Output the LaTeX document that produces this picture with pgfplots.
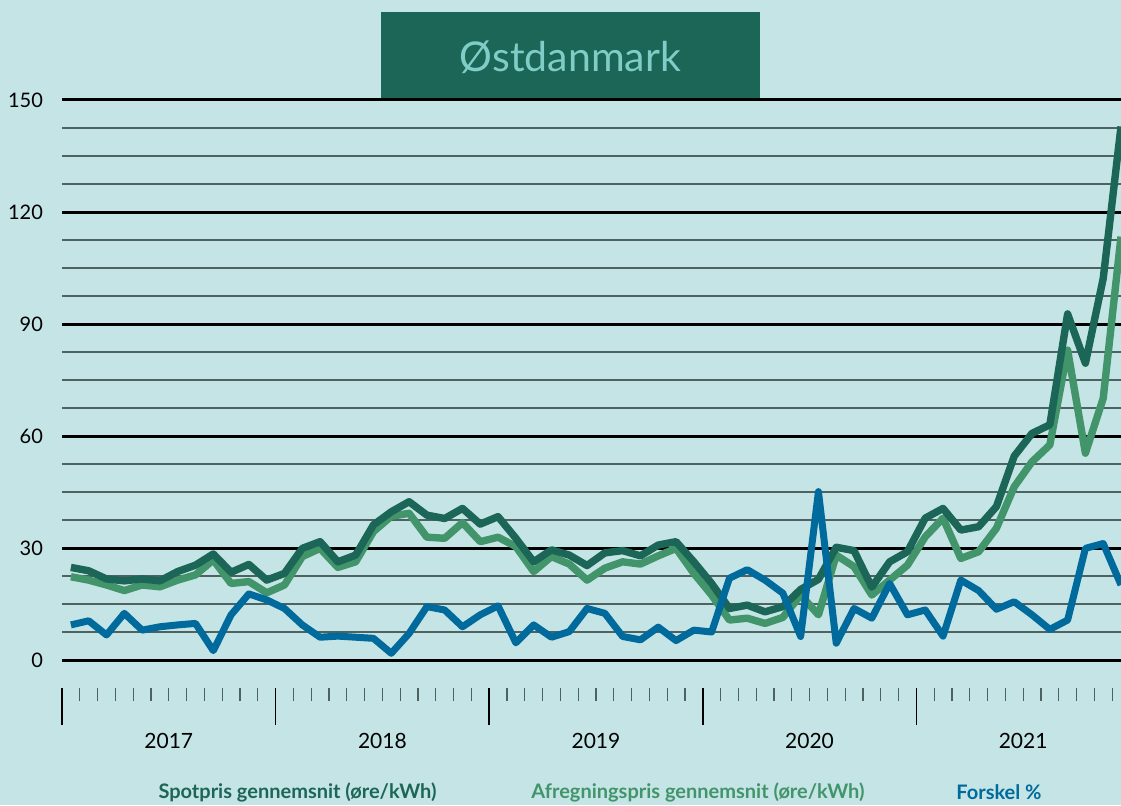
\documentclass[border=0pt]{standalone}
\usepackage{pgfplots}
\usepackage{pgfplotstable}
\pgfplotsset{compat=1.18}
\usepackage{fontspec}
\setmainfont{Lato}
\definecolor{bg}{HTML}{C5E4E5}
\definecolor{darkg}{HTML}{1C6657}
\definecolor{lightg}{HTML}{42946A}
\definecolor{blueL}{HTML}{006A9C}
\definecolor{titletxt}{HTML}{7FCDC6}
\definecolor{minorgrid}{HTML}{4E6262}
\pgfplotstableread{
x spot afr forskel
0.5 24.8 22.3 9.4
1.5 23.9 21.4 10.5
2.5 21.7 20.1 6.7
3.5 21.2 18.6 12.5
4.5 21.7 20.1 8.0
5.5 21.2 19.6 8.9
6.5 23.7 21.4 9.4
7.5 25.4 22.8 9.8
8.5 28.4 26.8 2.5
9.5 23.5 20.5 12.1
10.5 25.6 21.0 17.7
11.5 21.4 18.0 16.1
12.5 23.2 20.1 13.8
13.5 29.9 27.7 9.4
14.5 31.7 29.9 6.1
15.5 26.3 24.8 6.4
16.5 28.1 26.3 6.1
17.5 36.2 34.4 5.8
18.5 39.7 38.5 1.8
19.5 42.4 39.3 7.1
20.5 38.8 32.9 14.3
21.5 37.9 32.6 13.4
22.5 40.6 36.8 8.9
23.5 36.4 31.7 12.1
24.5 38.4 32.9 14.5
25.5 32.6 30.4 4.6
26.5 26.3 23.7 9.4
27.5 29.5 27.7 6.1
28.5 28.1 25.7 7.6
29.5 25.3 21.4 13.8
30.5 28.7 24.6 12.5
31.5 29.3 26.3 6.3
32.5 27.9 25.7 5.4
33.5 30.8 27.9 8.8
34.5 31.7 29.9 5.2
35.5 26.3 23.2 8.0
36.5 20.5 17.4 7.5
37.5 13.8 10.7 21.9
38.5 14.7 11.2 24.2
39.5 12.9 9.8 21.4
40.5 14.3 11.4 17.9
41.5 18.9 17.4 6.3
42.5 21.6 12.1 45.1
43.5 30.2 28.1 4.5
44.5 29.3 25.0 13.8
45.5 19.5 17.4 11.2
46.5 26.3 21.4 20.5
47.5 29.0 25.4 12.1
48.5 38.0 33.0 13.4
49.5 40.6 38.0 6.4
50.5 34.8 27.2 21.4
51.5 35.7 29.0 18.6
52.5 41.1 35.3 13.6
53.5 54.6 46.4 15.6
54.5 60.7 53.1 12.1
55.5 63.0 57.6 8.2
56.5 92.7 83.0 10.7
57.5 79.5 55.4 29.9
58.5 102.2 70.1 31.2
59.5 142.9 113.4 20.1
}\datatable
\begin{document}
\begin{tikzpicture}
\fill[bg] (0,0) rectangle (560.5pt,402.5pt);
\useasboundingbox (0,0) rectangle (560.5pt,402.5pt);
\fill[darkg] (190.5pt,352.5pt) rectangle (380pt,396.5pt);
\node[text=titletxt, font=\fontsize{20.5}{24}\selectfont] at (285.25pt,374pt) {Østdanmark};
\begin{axis}[
  at={(31pt,58.5pt)}, anchor=south west,
  scale only axis,
  width=529.5pt, height=294pt,
  xmin=0, xmax=59.5, ymin=-7.5, ymax=150,
  axis line style={draw=none},
  xtick pos=bottom, ytick pos=left,
  ytick={0,30,60,90,120,150},
  minor ytick={7.5,15,22.5,37.5,45,52.5,67.5,75,82.5,97.5,105,112.5,127.5,135,142.5},
  ymajorgrids, yminorgrids,
  major grid style={black, line width=1.5pt},
  minor grid style={minorgrid, line width=0.9pt},
  ytick style={draw=none},
  minor y tick style={draw=none},
  xtick={0,12,24,36,48},
  xticklabels={2017,2018,2019,2020,2021},
  minor xtick={1,2,3,4,5,6,7,8,9,10,11,13,14,15,16,17,18,19,20,21,22,23,25,26,27,28,29,30,31,32,33,34,35,37,38,39,40,41,42,43,44,45,46,47,49,50,51,52,53,54,55,56,57,58,59},
  tick align=outside,
  major tick length=18.5pt,
  minor tick length=6.5pt,
  major x tick style={black, line width=0.8pt},
  minor x tick style={minorgrid, line width=0.6pt},
  xticklabel style={anchor=north, xshift=53.4pt, yshift=-0.5pt, font=\fontsize{10.5}{12}\selectfont},
  yticklabel style={anchor=east, xshift=12.5pt, font=\fontsize{10}{12}\selectfont},
  /pgf/number format/assume math mode=true,
  yticklabel={\pgfmathprintnumber[assume math mode=true]{\tick}},
  clip=true,
]
\addplot[lightg, line width=3.7pt, line join=round] table[x=x, y=afr] {\datatable};
\addplot[darkg, line width=3.7pt, line join=round] table[x=x, y=spot] {\datatable};
\addplot[blueL, line width=3.5pt, line join=round] table[x=x, y=forskel] {\datatable};
\end{axis}
\node[text=darkg, font=\bfseries\fontsize{10}{12}\selectfont] at (148.75pt,6.5pt) {Spotpris gennemsnit (øre/kWh)};
\node[text=lightg, font=\bfseries\fontsize{10}{12}\selectfont] at (349pt,6.5pt) {Afregningspris gennemsnit (øre/kWh)};
\node[text=blueL, font=\bfseries\fontsize{10}{12}\selectfont] at (499.5pt,6.5pt) {Forskel \%};
\end{tikzpicture}
\end{document}
